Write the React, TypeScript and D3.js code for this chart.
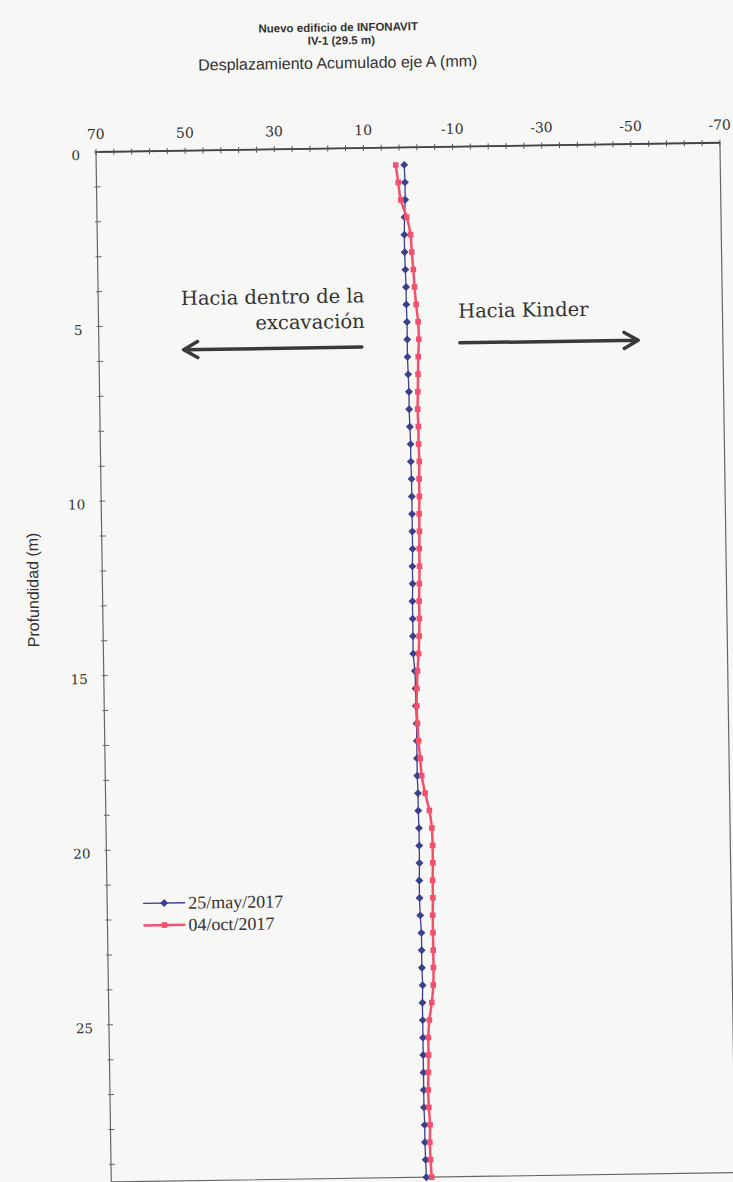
import React from 'react'
import * as d3 from 'd3'

// depth of each inclinometer reading (m)
const depths = [
  0.5, 1, 1.5, 2, 2.5, 3, 3.5, 4, 4.5, 5, 5.5, 6, 6.5, 7, 7.5, 8, 8.5, 9, 9.5, 10,
  10.5, 11, 11.5, 12, 12.5, 13, 13.5, 14, 14.5, 15, 15.5, 16, 16.5, 17, 17.5, 18, 18.5, 19, 19.5, 20,
  20.5, 21, 21.5, 22, 22.5, 23, 23.5, 24, 24.5, 25, 25.5, 26, 26.5, 27, 27.5, 28, 28.5, 29, 29.5
]

// cumulative displacement, axis A (mm)
const may2017 = [
  0.9, 0.8, 0.8, 1.0, 1.1, 1.1, 1.0, 0.9, 0.9, 0.8, 0.8, 0.8, 0.7, 0.6, 0.6, 0.5, 0.4, 0.4, 0.3, 0.3,
  0.3, 0.3, 0.3, 0.4, 0.4, 0.5, 0.5, 0.5, 0.5, 0.2, 0.1, 0.1, 0.0, 0.0, 0.0, 0.0, -0.1, -0.1, -0.2, -0.2,
  -0.2, -0.1, -0.1, -0.2, -0.4, -0.4, -0.4, -0.5, -0.4, -0.4, -0.4, -0.4, -0.4, -0.4, -0.4, -0.5, -0.5, -0.6, -0.7
]
const oct2017 = [
  2.8, 2.3, 1.8, 0.5, -0.3, -0.5, -0.8, -1.0, -1.3, -1.7, -1.8, -1.6, -1.5, -1.4, -1.3, -1.4, -1.4, -1.5, -1.4, -1.4,
  -1.3, -1.3, -1.2, -1.2, -1.1, -1.0, -1.0, -0.9, -0.7, -0.4, -0.2, -0.1, -0.2, -0.4, -0.7, -1.0, -1.7, -2.6, -3.1, -3.2,
  -3.2, -3.1, -3.1, -3.0, -3.0, -3.0, -3.0, -2.9, -2.5, -1.9, -1.6, -1.6, -1.5, -1.4, -1.5, -1.7, -1.6, -1.7, -1.9
]

const seriesNames = ['25/may/2017', '04/oct/2017']
const xTicks = [70, 50, 30, 10, -10, -30, -50, -70]
const yTicks = [0, 5, 10, 15, 20, 25]

const width = 733
const height = 1182
const plotLeft = 96
const plotTop = 152
const plotW = 624
const plotH = 1030
const tilt = -0.85 // the scanned sheet is slightly rotated

const blue = '#3c3f8c'
const red = '#f2506d'
const ink = '#333333'
const serif = 'DejaVu Serif, serif'
const sans = 'Liberation Sans, Arial, sans-serif'

export default function App() {
  const x = d3.scaleLinear().domain([70, -70]).range([0, plotW])
  const y = d3.scaleLinear().domain([0, 29.5]).range([0, plotH])

  const line = d3
    .line<number>()
    .x((d) => x(d))
    .y((_, i) => y(depths[i]))
    .curve(d3.curveCatmullRom.alpha(0.5))

  const xMinor = d3.range(70, -70.1, -4)
  const yMinor = d3.range(0, 29.6, 1)

  const arrowY1 = y(5.7)
  const arrowY2 = y(5.62)

  return (
    <svg
      width={width}
      height={height}
      style={{ position: 'absolute', left: 0, top: 0, display: 'block', background: '#f7f7f6' }}
    >
      <g transform={`translate(${plotLeft},${plotTop}) rotate(${tilt})`}>
        {/* titles */}
        <text x={244} y={-117} textAnchor="middle" fontFamily={sans} fontWeight="bold" fontSize={11.5} fill={ink}>
          Nuevo edificio de INFONAVIT
        </text>
        <text x={247} y={-104} textAnchor="middle" fontFamily={sans} fontWeight="bold" fontSize={11.5} fill={ink}>
          IV-1 (29.5 m)
        </text>
        <text x={243} y={-80} textAnchor="middle" fontFamily={sans} fontSize={16} fill={ink}>
          Desplazamiento Acumulado eje A (mm)
        </text>
        <text transform="translate(-64,437) rotate(-90)" textAnchor="middle" fontFamily={sans} fontSize={16} fill={ink}>
          Profundidad (m)
        </text>

        {/* frame */}
        <rect x={0} y={0} width={plotW} height={plotH} fill="none" stroke="#666" strokeWidth={1.2} />
        <line x1={0} x2={plotW} y1={0} y2={0} stroke="#444" strokeWidth={1.8} />

        {/* top axis */}
        {xMinor.map((v) => (
          <line key={`xm${v}`} x1={x(v)} x2={x(v)} y1={-3} y2={3} stroke="#555" strokeWidth={1} />
        ))}
        {xTicks.map((v) => (
          <text key={`xt${v}`} x={x(v)} y={-13} textAnchor="middle" fontFamily={serif} fontSize={14} fill={ink}>
            {v}
          </text>
        ))}

        {/* left axis */}
        {yMinor.map((v) => (
          <line key={`ym${v}`} x1={-2} x2={4} y1={y(v)} y2={y(v)} stroke="#666" strokeWidth={1} />
        ))}
        {yTicks.map((v) => (
          <text key={`yt${v}`} x={-16} y={y(v) + 8} textAnchor="end" fontFamily={serif} fontSize={13.5} fill={ink}>
            {v}
          </text>
        ))}

        {/* direction notes */}
        <text x={x(10.3)} y={y(4.42)} textAnchor="end" fontFamily={serif} fontSize={19.5} fill={ink}>
          Hacia dentro de la
        </text>
        <text x={x(10.3)} y={y(5.15)} textAnchor="end" fontFamily={serif} fontSize={19.5} fill={ink}>
          excavación
        </text>
        <text x={x(-10.7)} y={y(4.9)} textAnchor="start" fontFamily={serif} fontSize={19.5} fill={ink}>
          Hacia Kinder
        </text>
        <path
          d={`M${x(11)},${arrowY1}L${x(51)},${arrowY1}M${x(51) + 14},${arrowY1 - 8}L${x(51)},${arrowY1}L${x(51) + 14},${arrowY1 + 8}`}
          fill="none"
          stroke="#3a3a3a"
          strokeWidth={3.5}
          strokeLinecap="round"
          strokeLinejoin="round"
        />
        <path
          d={`M${x(-11)},${arrowY2}L${x(-51)},${arrowY2}M${x(-51) - 14},${arrowY2 - 8}L${x(-51)},${arrowY2}L${x(-51) - 14},${arrowY2 + 8}`}
          fill="none"
          stroke="#3a3a3a"
          strokeWidth={3.5}
          strokeLinecap="round"
          strokeLinejoin="round"
        />

        {/* series */}
        <path d={line(may2017) ?? ''} fill="none" stroke={blue} strokeWidth={1.3} />
        {may2017.map((v, i) => (
          <rect
            key={`b${i}`}
            x={-2.8}
            y={-2.8}
            width={5.6}
            height={5.6}
            fill={blue}
            transform={`translate(${x(v)},${y(depths[i])}) rotate(45)`}
          />
        ))}
        <path d={line(oct2017) ?? ''} fill="none" stroke={red} strokeWidth={2.5} />
        {oct2017.map((v, i) => (
          <rect key={`r${i}`} x={x(v) - 2.8} y={y(depths[i]) - 2.8} width={5.6} height={5.6} fill={red} />
        ))}

        {/* legend */}
        {seriesNames.map((name, i) => {
          const ly = 752 + i * 22
          const color = i === 0 ? blue : red
          return (
            <g key={name}>
              <line x1={36} x2={78} y1={ly} y2={ly} stroke={color} strokeWidth={i === 0 ? 1.3 : 2.5} />
              {i === 0 ? (
                <rect x={-2.8} y={-2.8} width={5.6} height={5.6} fill={color} transform={`translate(57,${ly}) rotate(45)`} />
              ) : (
                <rect x={54.2} y={ly - 2.8} width={5.6} height={5.6} fill={color} />
              )}
              <text x={81} y={ly + 6} fontFamily="Liberation Serif, Times New Roman, serif" fontSize={18} fill={ink}>
                {name}
              </text>
            </g>
          )
        })}
      </g>
    </svg>
  )
}
